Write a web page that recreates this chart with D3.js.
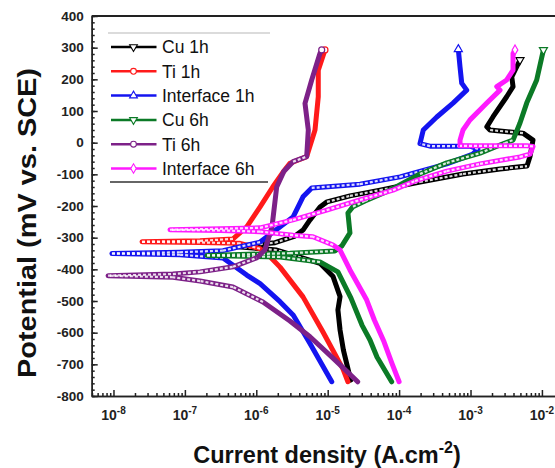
<!DOCTYPE html>
<html>
<head>
<meta charset="utf-8">
<script src="https://cdnjs.cloudflare.com/ajax/libs/d3/7.8.5/d3.min.js"></script>
<style>
  body { margin: 0; background: #fff; }
  svg { display: block; font-family: "Liberation Sans", Arial, sans-serif; }
</style>
</head>
<body>
<svg width="555" height="468"></svg>
<script>
// legend order = drawing order
var seriesNames = ["Cu 1h", "Ti 1h", "Interface 1h", "Cu 6h", "Ti 6h", "Interface 6h"];
var seriesColors = ["#000000", "#ff1a1a", "#1414f0", "#0b7a26", "#7d2188", "#ff1aff"];

// [current density (A/cm2), potential (mV vs SCE)]
// each run goes cathodic end -> Ecorr dip -> anodic end
var cu1h = [
  [2.1e-5, -750], [1.66e-5, -655], [1.49e-5, -592], [1.39e-5, -528], [1.49e-5, -486],
  [1.19e-5, -423], [7.8e-6, -381], [1.93e-6, -339], [5.0e-7, -328], [1.83e-6, -316],
  [3.48e-6, -295], [4.51e-6, -276], [5.65e-6, -244], [7.8e-6, -203], [9.77e-6, -187],
  [2.05e-5, -168], [5.4e-5, -150], [1.96e-4, -124], [7.85e-4, -99], [2.59e-3, -83],
  [6.18e-3, -74], [6.81e-3, -44], [7.5e-3, 8], [5.43e-3, 30], [1.87e-3, 40],
  [1.69e-3, 50], [2.07e-3, 82], [3.21e-3, 145], [3.94e-3, 177], [3.78e-3, 208],
  [4.44e-3, 240], [4.93e-3, 261]
];
var ti1h = [
  [1.92e-5, -755], [1.64e-5, -715], [8.59e-6, -598], [4.51e-6, -487], [2.15e-6, -393],
  [1.56e-6, -360], [1.13e-6, -335], [5.92e-7, -318], [1.63e-7, -315], [2.51e-8, -313],
  [1.63e-7, -310], [4.72e-7, -304], [7.35e-7, -266], [1.13e-6, -203], [1.7e-6, -140],
  [2.37e-6, -93], [2.96e-6, -65], [5.08e-6, -44], [6.64e-6, 40], [7.38e-6, 145],
  [7.38e-6, 229], [9.16e-6, 293]
];
var int1h = [
  [1.14e-5, -755], [5.65e-6, -634], [3.3e-6, -545], [2.15e-6, -502], [1.13e-6, -445],
  [7.35e-7, -418], [3.42e-7, -364], [8.53e-8, -354], [9.5e-9, -350], [8.53e-8, -346],
  [3.42e-7, -341], [1.13e-6, -314], [3.27e-6, -235], [4.51e-6, -171], [5.97e-6, -143],
  [2.83e-5, -131], [1.03e-4, -108], [4.65e-4, -67], [1.08e-3, -36], [1.27e-3, -20],
  [9.84e-4, -11], [2.71e-4, -11], [1.96e-4, -3], [2.18e-4, 40], [3.37e-4, 81],
  [5.69e-4, 125], [8.85e-4, 166], [7.53e-4, 188], [7.13e-4, 239], [6.75e-4, 295]
];
var cu6h = [
  [7.87e-5, -755], [4.9e-5, -677], [3.91e-5, -623], [3.02e-5, -576], [2.12e-5, -491],
  [1.39e-5, -408], [7.8e-6, -377], [2.15e-6, -361], [2.04e-7, -356], [2.96e-6, -349],
  [1.26e-5, -342], [1.58e-5, -326], [2.05e-5, -285], [1.92e-5, -222], [2.26e-5, -202],
  [3.33e-5, -184], [7.46e-5, -150], [1.96e-4, -99], [4.65e-4, -64], [1.36e-3, -33],
  [3.04e-3, -1], [3.94e-3, 8], [4.93e-3, 62], [6.12e-3, 125], [8.45e-3, 198],
  [1.05e-2, 293]
];
var ti6h = [
  [2.63e-5, -755], [1.26e-5, -686], [5.65e-6, -613], [2.96e-6, -563], [1.24e-6, -503],
  [4.72e-7, -456], [1.63e-7, -437], [6.8e-8, -425], [8.4e-9, -420], [6.8e-8, -415],
  [1.63e-7, -408], [4.72e-7, -392], [1.01e-6, -364], [1.32e-6, -339], [1.66e-6, -266],
  [1.93e-6, -140], [2.44e-6, -90], [3.27e-6, -60], [5.08e-6, -44], [5.35e-6, 40],
  [4.81e-6, 124], [5.97e-6, 198], [7.8e-6, 282], [8.24e-6, 293]
];
var int6h = [
  [1.0e-4, -755], [7.94e-5, -697], [6.15e-5, -629], [4.5e-5, -560], [3.52e-5, -497],
  [2.05e-5, -402], [1.49e-5, -339], [1.19e-5, -323], [6.22e-6, -297], [3.27e-6, -292],
  [1.13e-6, -281], [3.1e-7, -277], [6.18e-8, -275], [3.1e-7, -272], [1.13e-6, -269],
  [3.27e-6, -244], [9.68e-6, -213], [2.83e-5, -181], [8.22e-5, -150], [1.67e-4, -121],
  [4.65e-4, -90], [1.36e-3, -67], [4.93e-3, -45], [6.81e-3, -36], [7.5e-3, -12],
  [6.18e-3, -10], [7.13e-4, -10], [7.13e-4, 8], [7.85e-4, 40], [9.84e-4, 72],
  [1.69e-3, 125], [2.59e-3, 166], [2.33e-3, 177], [3.21e-3, 198], [3.94e-3, 229],
  [3.94e-3, 282], [4.2e-3, 293]
];

// tick values
var yTicks = [400, 300, 200, 100, 0, -100, -200, -300, -400, -500, -600, -700, -800];
var xTickExps = [-8, -7, -6, -5, -4, -3, -2];

var allSeries = [cu1h, ti1h, int1h, cu6h, ti6h, int6h];
var symbolTypes = ["tri-down", "circle", "tri-up", "tri-down", "circle", "diamond"];

var svg = d3.select("svg"),
    margin = {top: 16, right: 0, bottom: 72, left: 91.7},
    width = 464.5,
    height = +svg.attr("height") - margin.top - margin.bottom;

var x = d3.scaleLog().domain([Math.pow(10, -8.305), Math.pow(10, -1.8)]).range([0, width]);
var y = d3.scaleLinear().domain([-800, 400]).range([height, 0]);

var g = svg.append("g").attr("transform", "translate(" + margin.left + "," + margin.top + ")");

// minor x ticks (2..9 in every decade)
var xMinor = [];
for (var e = -9; e <= -2; e++) {
  for (var m = 2; m <= 9; m++) {
    var v = m * Math.pow(10, e);
    if (v > x.domain()[0] && v < x.domain()[1]) xMinor.push(v);
  }
}
var xMajor = xTickExps.map(function (e) { return Math.pow(10, e); });

g.append("g").attr("transform", "translate(0," + height + ")")
  .call(d3.axisBottom(x).tickValues(xMinor).tickSizeInner(-3).tickSizeOuter(0).tickFormat(""));
g.append("g").attr("transform", "translate(0," + height + ")")
  .call(d3.axisBottom(x).tickValues(xMajor).tickSizeInner(-6).tickSizeOuter(0).tickFormat(""));

// y axis, minor every 20 mV
g.append("g")
  .call(d3.axisLeft(y).tickValues(d3.range(-800, 401, 20)).tickSizeInner(-3).tickSizeOuter(0).tickFormat(""));
g.append("g").attr("class", "yaxis")
  .call(d3.axisLeft(y).tickValues(yTicks).tickSizeInner(-6).tickSizeOuter(0).tickPadding(8)
    .tickFormat(function (d) { return String(d); }));

g.selectAll(".domain, .tick line").attr("stroke", "#222").attr("stroke-width", 1.5);
g.selectAll(".yaxis text").attr("font-size", 13.5).attr("font-weight", "bold").attr("fill", "#222")
  .attr("font-family", "'Liberation Sans', Arial, sans-serif");

// top frame line
g.append("line").attr("x1", 0).attr("x2", width + 5).attr("y1", 0).attr("y2", 0)
  .attr("stroke", "#222").attr("stroke-width", 2.2);

// x tick labels 10^n
xTickExps.forEach(function (e) {
  var t = g.append("text").attr("x", x(Math.pow(10, e))).attr("y", height + 24)
    .attr("text-anchor", "middle").attr("font-size", 14).attr("font-weight", "bold").attr("fill", "#222");
  t.append("tspan").text("10");
  t.append("tspan").attr("font-size", 10).attr("dy", -6).text(String(e));
});

// curves
var line = d3.line().x(function (d) { return x(d[0]); }).y(function (d) { return y(d[1]); });

function symbolPath(type, size) {
  if (type === "circle") return d3.symbol().type(d3.symbolCircle).size(size)();
  if (type === "diamond") return d3.symbol().type(d3.symbolDiamond).size(size)();
  return d3.symbol().type(d3.symbolTriangle).size(size)();
}

allSeries.forEach(function (data, i) {
  var col = seriesColors[i];
  g.append("path").datum(data).attr("d", line)
    .attr("fill", "none").attr("stroke", col).attr("stroke-width", 5)
    .attr("stroke-linejoin", "round").attr("stroke-linecap", "round");

  // flat stretches: open markers show, so give them a hollow look
  for (var k = 1; k < data.length; k++) {
    var x0 = x(data[k - 1][0]), y0 = y(data[k - 1][1]),
        x1 = x(data[k][0]), y1 = y(data[k][1]);
    var dx = Math.abs(x1 - x0), dy = Math.abs(y1 - y0);
    if (dx > 6 && dy / dx < 0.5) {
      g.append("line").attr("x1", x0).attr("y1", y0).attr("x2", x1).attr("y2", y1)
        .attr("stroke", "#fff").attr("stroke-width", 2.2)
        .attr("stroke-dasharray", "3,2").attr("opacity", 0.85);
    }
  }

  // open marker on the last point
  var last = data[data.length - 1];
  g.append("path").attr("d", symbolPath(symbolTypes[i], 28))
    .attr("transform", "translate(" + x(last[0]) + "," + y(last[1]) + ")" +
      (symbolTypes[i] === "tri-down" ? " rotate(180)" : ""))
    .attr("fill", "#fff").attr("stroke", col).attr("stroke-width", 1.2);
});

// legend
var legend = svg.append("g");
legend.append("line").attr("x1", 108).attr("x2", 270).attr("y1", 33).attr("y2", 33)
  .attr("stroke", "#cfcfcf").attr("stroke-width", 1.5);
legend.append("line").attr("x1", 110).attr("x2", 268).attr("y1", 182).attr("y2", 182)
  .attr("stroke", "#333").attr("stroke-width", 1.5);

seriesNames.forEach(function (name, i) {
  var ly = 47 + i * 24.3;
  legend.append("line").attr("x1", 111).attr("x2", 156.5).attr("y1", ly).attr("y2", ly)
    .attr("stroke", seriesColors[i]).attr("stroke-width", 2.5);
  legend.append("path").attr("d", symbolPath(symbolTypes[i], 26))
    .attr("transform", "translate(133.5," + ly + ")" + (symbolTypes[i] === "tri-down" ? " rotate(180)" : ""))
    .attr("fill", "#fff").attr("stroke", seriesColors[i]).attr("stroke-width", 1.1);
  legend.append("text").attr("x", 162).attr("y", ly).attr("dy", "0.36em")
    .attr("font-size", 17.5).attr("fill", "#111").text(name);
});

// axis titles
svg.append("text")
  .attr("transform", "translate(36,223) rotate(-90)")
  .attr("text-anchor", "middle")
  .attr("font-size", 26).attr("font-weight", "bold").attr("fill", "#111")
  .attr("textLength", 310).attr("lengthAdjust", "spacingAndGlyphs")
  .text("Potential (mV vs. SCE)");

var xt = svg.append("text").attr("x", 327).attr("y", 463)
  .attr("text-anchor", "middle").attr("font-size", 23.5).attr("font-weight", "bold").attr("fill", "#111");
xt.append("tspan").text("Current density (A.cm");
xt.append("tspan").attr("font-size", 16).attr("dy", -10).text("-2");
xt.append("tspan").attr("dy", 10).text(")");
</script>
</body>
</html>
